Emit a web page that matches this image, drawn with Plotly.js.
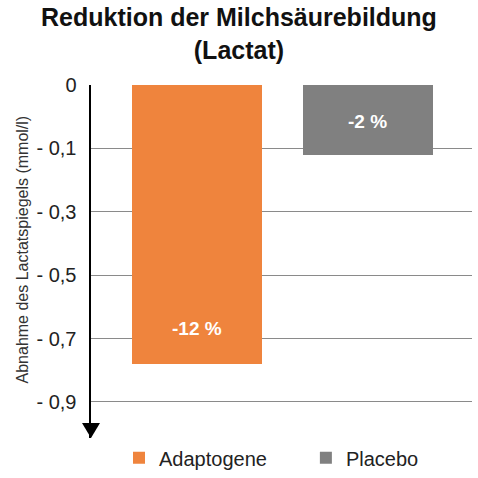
<!DOCTYPE html>
<html>
<head>
<meta charset="utf-8">
<script src="https://cdn.plot.ly/plotly-3.0.1.min.js"></script>
<style>html,body{margin:0;padding:0;background:#fff;}#chart{width:478px;height:478px;}</style>
</head>
<body>
<div id="chart"></div>
<script>
// Data
const categories = ["Adaptogene", "Placebo"];
const values = [-0.88, -0.22];          // bar extent on the chart's (equally spaced) scale
const barLabels = ["-12 %", "-2 %"];
const labelPos = [-0.77, -0.115];
const colors = ["#EF843D", "#808080"];
const tickVals = [0, -0.2, -0.4, -0.6, -0.8, -1.0];
const tickText = ["0", "- 0,1", "- 0,3", "- 0,5", "- 0,7", "- 0,9"];
const titleLines = ["Reduktion der Milchsäurebildung", "(Lactat)"];

const FONT = "Liberation Sans, Arial, Helvetica, sans-serif";
const legendIds = ["legend", "legend2"];
const legendX = [0.0735, 0.564];

const traces = categories.map((c, i) => ({
  type: "bar",
  name: c,
  x: [i],
  y: [values[i]],
  width: 0.76,
  marker: { color: colors[i] },
  legend: legendIds[i],
  hoverinfo: "skip"
}));

const annotations = categories.map((c, i) => ({
  x: i, y: labelPos[i], xref: "x", yref: "y",
  text: "<b>" + barLabels[i] + "</b>",
  showarrow: false,
  font: { family: FONT, size: 19, color: "#ffffff" }
}));
annotations.push({
  x: -0.207, y: 0.533, xref: "paper", yref: "paper",
  text: "Abnahme des Lactatspiegels (mmol/l)",
  textangle: -90, showarrow: false,
  font: { family: FONT, size: 16, color: "#333333" }
});
annotations.push({
  x: 0.388, xref: "paper", xanchor: "center",
  y: 1.238, yref: "paper", yanchor: "top",
  text: "<b>" + titleLines.join("<br>") + "</b>",
  showarrow: false,
  font: { family: FONT, size: 25, color: "#111111" }
});

function legendSpec(x) {
  return {
    orientation: "h",
    x: x, xanchor: "left",
    y: 0.083, yref: "container", yanchor: "top",
    font: { family: FONT, size: 20, color: "#222222" },
    bgcolor: "rgba(0,0,0,0)"
  };
}

const layout = {
  width: 478, height: 478,
  margin: { l: 91, r: 6, t: 85, b: 40 },
  paper_bgcolor: "#ffffff", plot_bgcolor: "#ffffff",
  showlegend: true,
  legend: legendSpec(legendX[0]),
  legend2: legendSpec(legendX[1]),
  xaxis: {
    range: [-0.62, 1.61],
    showgrid: false, zeroline: false, showline: false,
    showticklabels: false, ticks: "", fixedrange: true
  },
  yaxis: {
    range: [-1.114, 0],
    tickvals: tickVals, ticktext: tickText,
    showgrid: true, gridcolor: "#8a8a8a", gridwidth: 1.2,
    zeroline: false,
    showline: true, linecolor: "#000000", linewidth: 2.5,
    ticks: "", ticklabelstandoff: 8,
    tickfont: { family: FONT, size: 20, color: "#222222" },
    fixedrange: true
  },
  bargap: 0,
  annotations: annotations,
  shapes: [{
    type: "path",
    xref: "paper", yref: "paper",
    xsizemode: "pixel", ysizemode: "pixel",
    xanchor: 0, yanchor: 0,
    path: "M-9,15 L9,15 L0,0 Z",
    fillcolor: "#000000", line: { width: 0 }
  }]
};

Plotly.newPlot("chart", traces, layout, { displayModeBar: false, staticPlot: true });
</script>
</body>
</html>
